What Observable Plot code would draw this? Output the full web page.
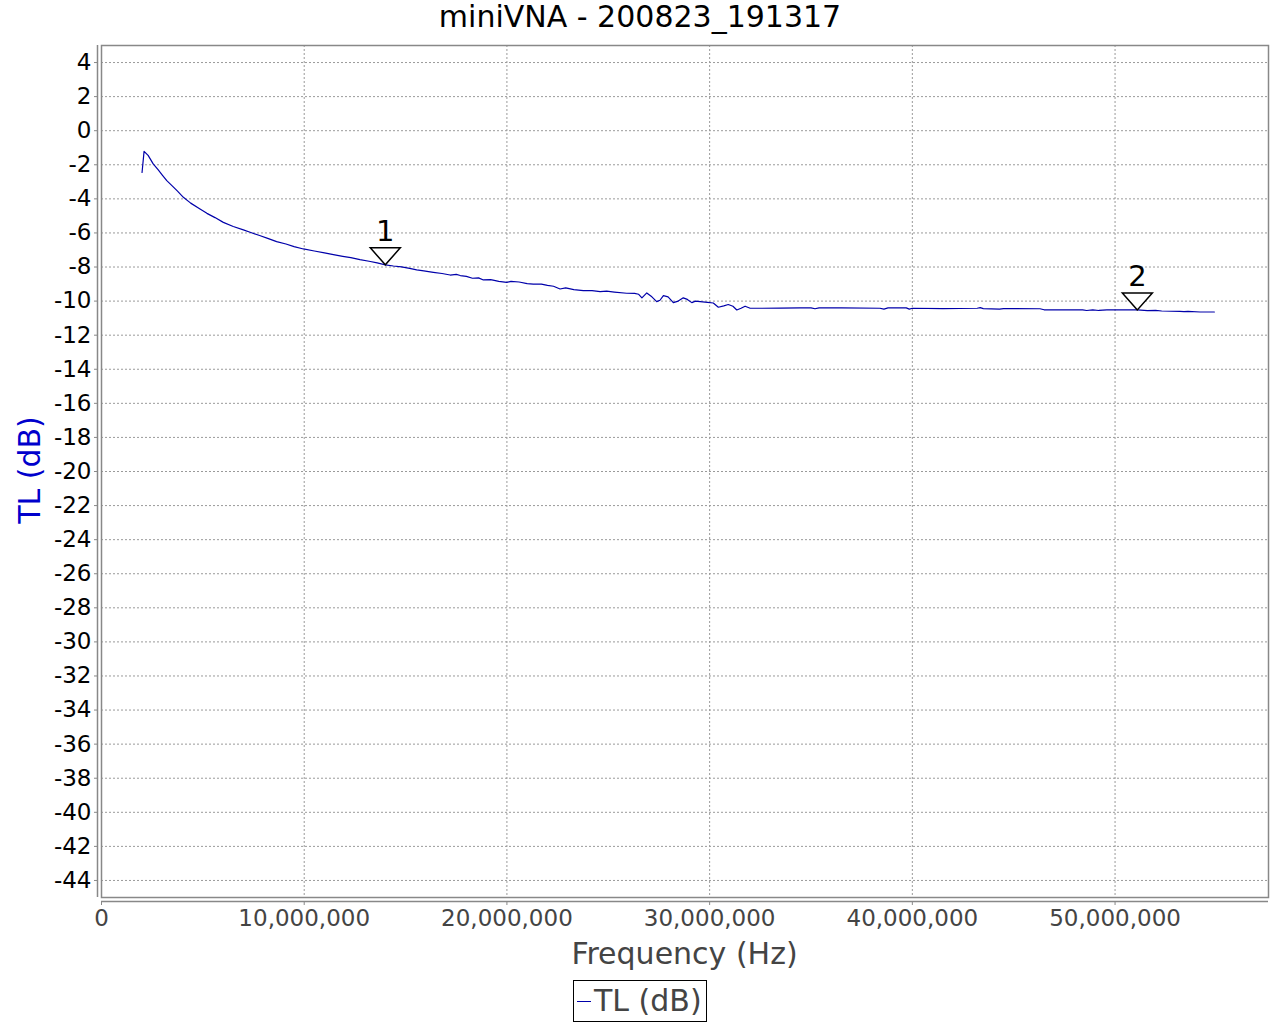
<!DOCTYPE html>
<html><head><meta charset="utf-8">
<script src="https://cdn.jsdelivr.net/npm/d3@7"></script>
<script src="https://cdn.jsdelivr.net/npm/@observablehq/plot@0.6"></script>
<style>
body{margin:0;background:#fff;}
#wrap{position:relative;width:1280px;height:1024px;font-family:"DejaVu Sans",sans-serif;overflow:hidden;background:#fff}
#chart{position:absolute;left:0;top:0}
.t{position:absolute;white-space:nowrap;line-height:34px;font-size:30px}
#title{left:0;width:1280px;top:0px;text-align:center;color:#000}
#xlabel{left:101px;width:1167px;top:937px;text-align:center;color:#444}
#ylabel{left:30px;top:470px;color:#0000cc;transform:translate(-50%,-50%) rotate(-90deg);transform-origin:center}
#legend{position:absolute;left:573px;top:980px;width:132px;height:40px;border:1px solid #000;box-sizing:content-box}
#legend .ln{position:absolute;left:3px;top:20px;width:14px;height:1px;background:#0000aa}
#legend .lt{position:absolute;left:20px;top:3px;color:#444;font-size:30px;line-height:34px;white-space:nowrap}
</style>
</head><body>
<div id="wrap">
  <div id="chart"></div>
  <div class="t" id="title">miniVNA - 200823_191317</div>
  <div class="t" id="xlabel">Frequency (Hz)</div>
  <div class="t" id="ylabel">TL (dB)</div>
  <div id="legend"><div class="ln"></div><div class="lt">TL (dB)</div></div>
</div>
<script>
const titleText = "miniVNA - 200823_191317";
const xLabel = "Frequency (Hz)";
const yLabel = "TL (dB)";
const seriesName = "TL (dB)";

const freqMHz = [2.00,2.10,2.30,2.55,2.80,3.00,3.22,3.50,3.75,4.04,4.40,4.86,5.20,5.60,6.01,6.50,7.00,7.33,7.80,8.20,8.64,9.10,9.50,9.96,10.50,11.00,11.44,11.90,12.30,12.75,13.20,13.60,14.00,14.40,14.80,15.20,15.55,15.90,16.37,16.80,17.20,17.50,17.70,18.00,18.30,18.60,18.84,19.20,19.60,19.99,20.20,20.60,21.00,21.30,21.70,22.00,22.30,22.62,22.90,23.30,23.77,24.20,24.60,24.92,25.30,25.91,26.30,26.50,26.66,26.90,27.15,27.39,27.55,27.72,27.95,28.21,28.45,28.70,28.90,29.12,29.30,29.53,29.90,30.18,30.43,30.70,30.92,31.15,31.34,31.55,31.75,32.00,32.50,33.50,34.46,35.00,35.20,35.40,36.50,38.40,38.60,38.80,39.70,39.85,40.00,41.50,43.20,43.35,43.50,44.30,44.50,46.30,46.50,48.40,48.60,48.90,49.20,49.60,50.50,51.10,51.60,52.00,52.30,53.20,53.40,53.60,54.20,54.90];
const tlDb = [-2.45,-1.21,-1.45,-1.95,-2.30,-2.60,-2.93,-3.25,-3.55,-3.91,-4.25,-4.59,-4.85,-5.10,-5.38,-5.62,-5.82,-5.96,-6.15,-6.32,-6.51,-6.65,-6.80,-6.94,-7.06,-7.17,-7.27,-7.37,-7.45,-7.57,-7.66,-7.76,-7.87,-7.94,-7.99,-8.08,-8.17,-8.23,-8.31,-8.38,-8.47,-8.43,-8.50,-8.55,-8.66,-8.64,-8.76,-8.74,-8.84,-8.90,-8.84,-8.88,-8.97,-9.00,-9.00,-9.08,-9.13,-9.29,-9.22,-9.33,-9.38,-9.38,-9.44,-9.42,-9.47,-9.54,-9.55,-9.60,-9.81,-9.52,-9.75,-10.03,-9.95,-9.68,-9.75,-10.09,-10.00,-9.81,-9.90,-10.09,-10.00,-10.03,-10.07,-10.11,-10.36,-10.28,-10.20,-10.30,-10.52,-10.42,-10.30,-10.42,-10.42,-10.41,-10.40,-10.40,-10.45,-10.40,-10.40,-10.42,-10.47,-10.40,-10.40,-10.47,-10.42,-10.44,-10.42,-10.38,-10.44,-10.47,-10.44,-10.45,-10.51,-10.51,-10.55,-10.51,-10.55,-10.51,-10.52,-10.52,-10.56,-10.54,-10.58,-10.60,-10.62,-10.60,-10.64,-10.64];

const markerLabels = ["1","2"];
const markerFreqMHz = [14.0, 51.1];
const markerDb = [-7.87, -10.52];

const xTicks = [0,10000000,20000000,30000000,40000000,50000000];
const yTicks = d3.range(-44, 5, 2);

const data = freqMHz.map((f,i)=>({f: f*1e6, v: tlDb[i]}));
const markers = markerLabels.map((l,i)=>({label:l, f: markerFreqMHz[i]*1e6, v: markerDb[i]}));

const downTriangle = {draw(ctx){ctx.moveTo(0,0);ctx.lineTo(-15,-17);ctx.lineTo(15,-17);ctx.closePath();}};

const chart = Plot.plot({
  width:1280, height:1024,
  marginLeft:101, marginRight:12, marginTop:45, marginBottom:127,
  style:{fontFamily:"DejaVu Sans", background:"white"},
  x:{domain:[0,57570000], label:null},
  y:{domain:[-45,5], label:null},
  marks:[
    Plot.gridX(xTicks,{stroke:"#9a9a9a", strokeOpacity:1, strokeDasharray:"2,2", strokeWidth:1}),
    Plot.gridY(yTicks,{stroke:"#9a9a9a", strokeOpacity:1, strokeDasharray:"2,2", strokeWidth:1}),
    Plot.frame({stroke:"#888", strokeWidth:1.5}),
    Plot.ruleY([-45],{dy:4, stroke:"#888", strokeWidth:1.5}),
    Plot.ruleX([0],{dx:-4, stroke:"#888", strokeWidth:1.5}),
    Plot.axisX({ticks:xTicks, tickFormat:d3.format(","), tickSize:4, tickPadding:4, dy:4, fontSize:23, color:"#444", stroke:"#888", label:null}),
    Plot.axisY({ticks:yTicks, tickFormat:d=>String(d), tickSize:3, tickPadding:3, dx:-4, fontSize:23, color:"#000", stroke:"#888", label:null}),
    Plot.line(data,{x:"f", y:"v", stroke:"#0000aa", strokeWidth:1.2}),
    Plot.dot(markers,{x:"f", y:"v", symbol:downTriangle, r:5, fill:"white", stroke:"black", strokeWidth:1.5}),
    Plot.text(markers,{x:"f", y:"v", text:"label", dy:-33, fontSize:29, fill:"black"})
  ]
});
document.getElementById("chart").appendChild(chart);
</script>
</body></html>
